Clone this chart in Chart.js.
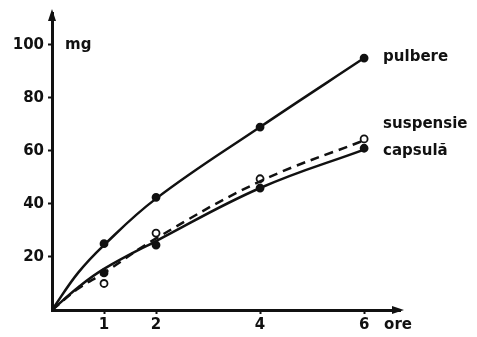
<!DOCTYPE html>
<html>
<head>
<meta charset="utf-8">
<script src="https://cdn.jsdelivr.net/npm/chart.js@4.4.1/dist/chart.umd.min.js"></script>
<style>
  html, body { margin: 0; padding: 0; background: #fff; }
  #wrap { width: 477px; height: 337px; }
</style>
</head>
<body>
<div id="wrap"><canvas id="chart"></canvas></div>
<script>
// ─── Data ────────────────────────────────────────────────────────────────────
const hours = [0, 0.5, 1, 2, 4, 6];
const xTicks = [1, 2, 4, 6];
const yTicks = [20, 40, 60, 80, 100];

// fitted curves
const pulbereCurve   = [0, 14, 24.5, 42, 69, 95];
const suspensieCurve = [0, 8, 14, 27, 48.5, 64];
const capsulaCurve   = [0, 8.5, 15.5, 26, 46, 60.5];

// measured points
const pointHours      = [1, 2, 4, 6];
const pulberePts      = [25, 42.5, 69, 95];
const suspensiePts    = [10, 29, 49.5, 64.5];
const capsulaPts      = [14, 24.5, 46, 61];

const seriesLabels = ['pulbere', 'suspensie', 'capsulă'];
const xTitle = 'ore';
const yTitle = 'mg';

const INK = '#111';
const FONT = "bold 15px 'DejaVu Sans', sans-serif";

const pairs = (xs, ys) => xs.map((x, i) => ({ x, y: ys[i] }));

function curve(data, dashed) {
    return {
        type: 'line',
        data: pairs(hours, data),
        borderColor: INK,
        borderWidth: 2.5,
        borderDash: dashed ? [9, 6] : [],
        pointRadius: 0,
        fill: false,
        tension: 0.4,
    };
}

function marks(data, open) {
    return {
        type: 'scatter',
        data: pairs(pointHours, data),
        pointRadius: 3.5,
        pointBorderWidth: 1.8,
        pointBackgroundColor: open ? '#fff' : INK,
        pointBorderColor: INK,
    };
}

// ─── Arrows, axis titles, series labels ──────────────────────────────────────
const decorations = {
    id: 'decorations',
    afterDraw(chart) {
        const { ctx, scales: { x, y }, chartArea: a } = chart;
        ctx.save();
        ctx.fillStyle = INK;
        // y arrow
        ctx.beginPath();
        ctx.moveTo(a.left, a.top - 4);
        ctx.lineTo(a.left - 4, a.top + 8);
        ctx.lineTo(a.left + 4, a.top + 8);
        ctx.closePath();
        ctx.fill();
        // x arrow
        ctx.beginPath();
        ctx.moveTo(a.right + 4, a.bottom);
        ctx.lineTo(a.right - 8, a.bottom - 4);
        ctx.lineTo(a.right - 8, a.bottom + 4);
        ctx.closePath();
        ctx.fill();

        ctx.font = FONT;
        ctx.textBaseline = 'middle';
        ctx.textAlign = 'left';
        ctx.fillText(yTitle, a.left + 13, y.getPixelForValue(100));
        ctx.fillText(xTitle, x.getPixelForValue(6) + 20, a.bottom + 15);

        const last = pointHours.length - 1;
        const lx = x.getPixelForValue(pointHours[last]) + 19;
        ctx.fillText(seriesLabels[0], lx, y.getPixelForValue(pulberePts[last]) - 1);
        ctx.fillText(seriesLabels[1], lx, y.getPixelForValue(suspensiePts[last]) - 15);
        ctx.fillText(seriesLabels[2], lx, y.getPixelForValue(capsulaPts[last]) + 3);
        ctx.restore();
    }
};

new Chart(document.getElementById('chart'), {
    data: {
        datasets: [
            curve(pulbereCurve, false),
            curve(suspensieCurve, true),
            curve(capsulaCurve, false),
            marks(pulberePts, false),
            marks(suspensiePts, true),
            marks(capsulaPts, false),
        ]
    },
    options: {
        responsive: true,
        maintainAspectRatio: false,
        animation: false,
        layout: { padding: { top: 12, right: 77, left: 0, bottom: 0 } },
        plugins: { legend: { display: false }, tooltip: { enabled: false } },
        scales: {
            x: {
                type: 'linear',
                min: 0,
                max: 6.69,
                afterBuildTicks: (s) => { s.ticks = xTicks.map(v => ({ value: v })); },
                afterFit: (s) => { s.height = 27; },
                border: { width: 3, color: INK },
                grid: { drawOnChartArea: false, tickLength: 4, tickWidth: 2, color: INK },
                ticks: { color: INK, font: { family: 'DejaVu Sans', size: 15, weight: 'bold' }, padding: 2 },
            },
            y: {
                type: 'linear',
                min: 0,
                max: 112,
                afterBuildTicks: (s) => { s.ticks = yTicks.map(v => ({ value: v })); },
                afterFit: (s) => { s.width = 52; },
                border: { width: 3, color: INK },
                grid: { drawOnChartArea: false, tickLength: 4, tickWidth: 2, color: INK },
                ticks: { color: INK, font: { family: 'DejaVu Sans', size: 15, weight: 'bold' }, padding: 4 },
            }
        }
    },
    plugins: [decorations]
});
</script>
</body>
</html>
